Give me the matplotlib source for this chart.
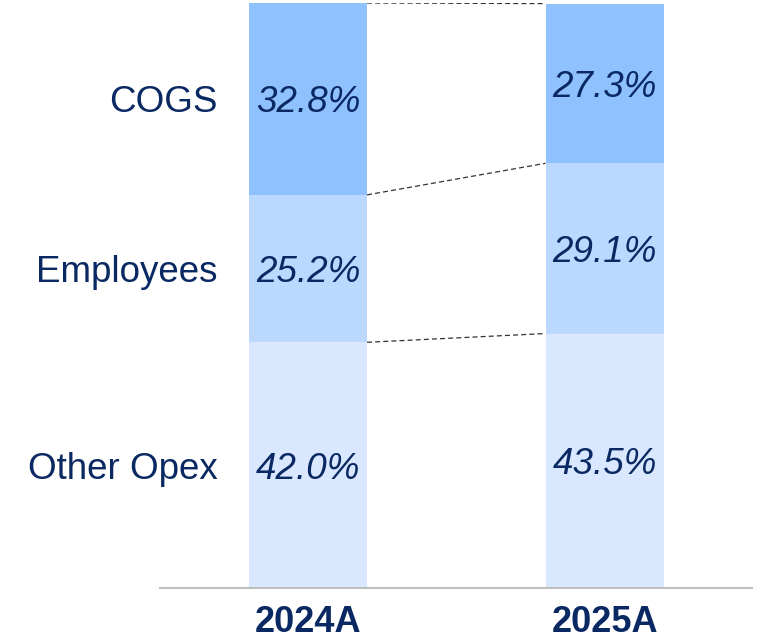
import matplotlib.pyplot as plt

years = ['2024A', '2025A']
categories = ['Other Opex', 'Employees', 'COGS']
other_opex = [42.0, 43.5]
employees = [25.2, 29.1]
cogs = [32.8, 27.3]

colors = ['#d9e8ff', '#bbd8ff', '#8fc1ff']
navy = '#0a2862'

plt.rcParams['font.family'] = ['Liberation Sans', 'DejaVu Sans']

fig = plt.figure(figsize=(7.63, 6.42), dpi=100)
ax = fig.add_axes([160 / 763, (642 - 588) / 642, 592 / 763, 585 / 642])

x = [0, 1]
w = 0.398
series = [other_opex, employees, cogs]
bottoms = [0, 0]
tops_list = []
for vals, col in zip(series, colors):
    ax.bar(x, vals, width=w, bottom=bottoms, color=col, edgecolor='none')
    for xi, v, b in zip(x, vals, bottoms):
        ax.text(xi, b + v / 2, f'{v:.1f}%', ha='center', va='center_baseline',
                fontsize=26.5, style='italic', color=navy)
    bottoms = [b + v for b, v in zip(bottoms, vals)]
    tops_list.append(list(bottoms))

# dashed connectors between segment tops
for tops in tops_list:
    ax.plot([x[0] + w / 2, x[1] - w / 2], tops, ls='--', color='#333333',
            lw=0.9, dashes=(4, 2.5))

# category labels next to first bar
b = 0
for cat, v in zip(categories, [s[0] for s in series]):
    ax.text(-0.3035, b + v / 2, cat, ha='right', va='center_baseline',
            fontsize=26.5, color=navy)
    b += v

ax.set_xlim(-0.499, 1.497)
ax.set_ylim(0, 100)
ax.set_xticks(x)
ax.set_xticklabels(years, fontsize=26, fontweight='bold', color=navy)
ax.tick_params(axis='x', length=0, pad=12.5)
ax.set_yticks([])
for s in ['top', 'right', 'left']:
    ax.spines[s].set_visible(False)
ax.spines['bottom'].set_color('#bfbfbf')
ax.spines['bottom'].set_linewidth(1.5)

fig.savefig('out.png', dpi=100)
